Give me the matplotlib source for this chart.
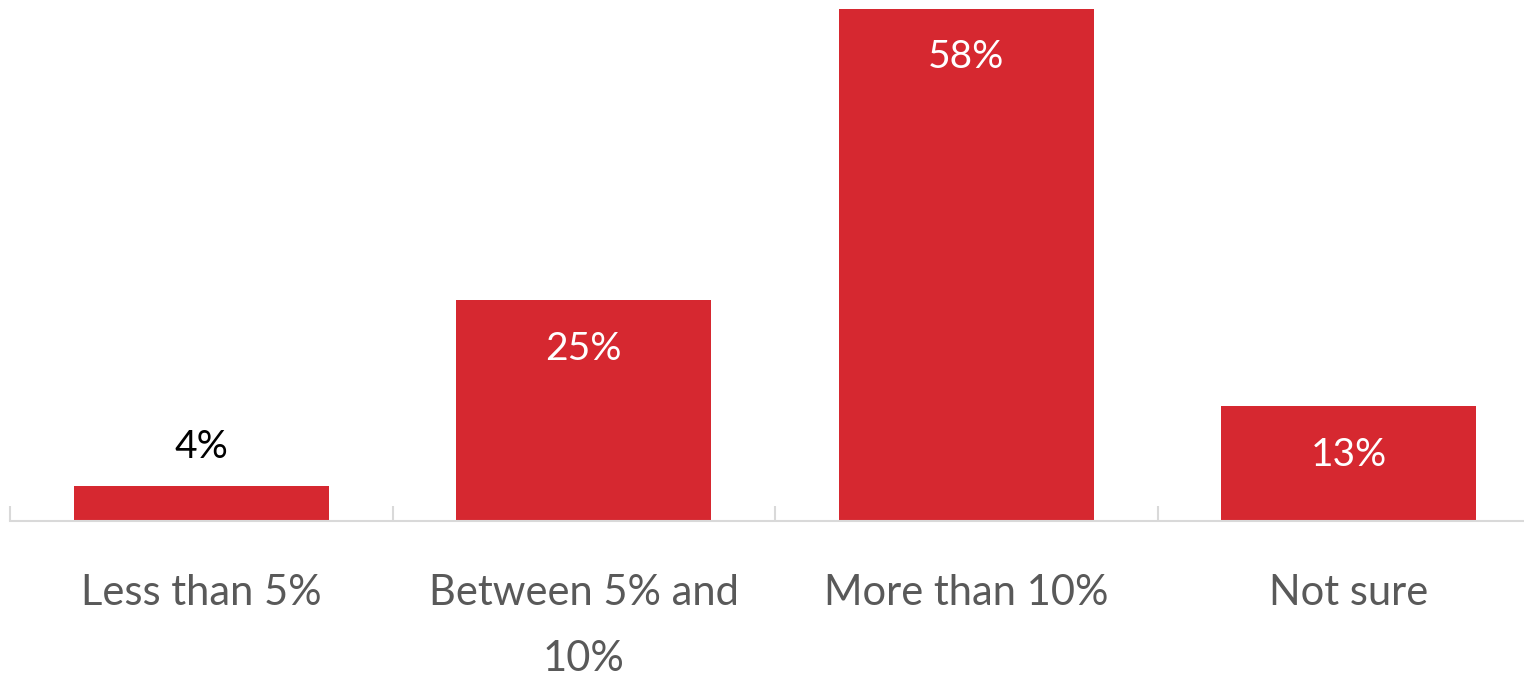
import numpy as np
import matplotlib.pyplot as plt

# Antworten und Anteile in Prozent
categories = ["Less than 5%", "Between 5% and\n10%", "More than 10%", "Not sure"]
values = [4, 25, 58, 13]
labels = ["4%", "25%", "58%", "13%"]

plt.rcParams["font.family"] = ["Lato", "DejaVu Sans"]

red = "#d62830"
grey_line = "#d9d9d9"
grey_text = "#595959"

fig = plt.figure(figsize=(15.24, 6.79), dpi=100)
ax = fig.add_axes([10 / 1524, 158 / 679, 1514 / 1524, 521 / 679])

x = np.arange(len(categories))
ax.bar(x, values, width=0.667, color=red, zorder=2)

for xi, v, lab in zip(x, values, labels):
    if v < 8:
        # zu klein, Text ueber den Balken
        ax.annotate(lab, (xi, v), xytext=(0, 15), textcoords="offset points",
                    ha="center", va="bottom", fontsize=28, color="black")
    else:
        ax.annotate(lab, (xi, v), xytext=(0, -22), textcoords="offset points",
                    ha="center", va="top", fontsize=28, color="white")

ax.set_xlim(-0.5, -0.5 + 1514 / 382.5)
ax.set_ylim(0, 59.0)

for s in ["top", "right", "left"]:
    ax.spines[s].set_visible(False)
ax.spines["bottom"].set_color(grey_line)
ax.spines["bottom"].set_linewidth(1.5)

ax.set_yticks([])
ax.set_xticks(x)
ax.set_xticklabels(categories, fontsize=30, color=grey_text,
                   linespacing=1.9, va="top")
ax.tick_params(axis="x", which="major", length=0, pad=38)
ax.set_xticks(np.arange(4) - 0.5, minor=True)
ax.tick_params(axis="x", which="minor", direction="in", length=11,
               width=1.5, color=grey_line)

fig.savefig("out.png", dpi=100)
